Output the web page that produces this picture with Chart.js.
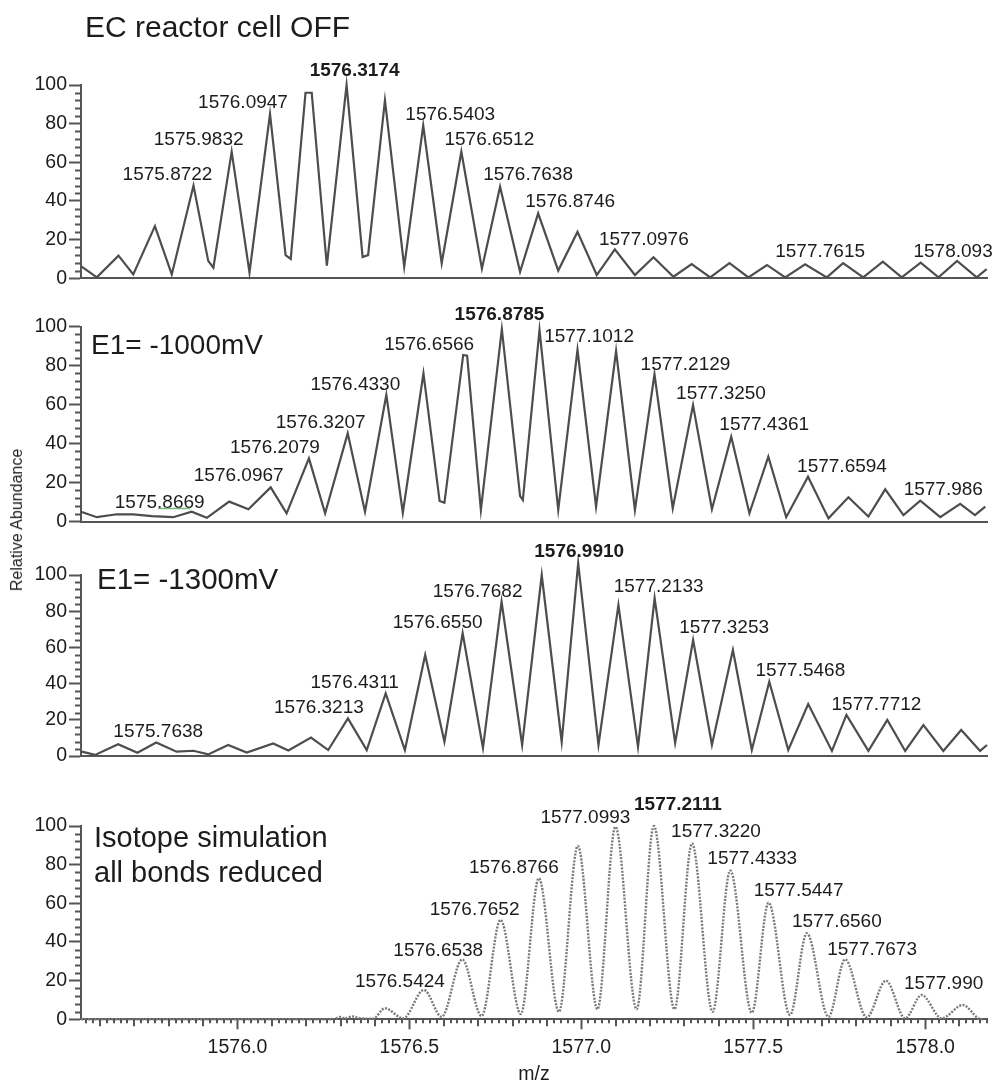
<!DOCTYPE html>
<html>
<head>
<meta charset="utf-8">
<script src="https://cdn.jsdelivr.net/npm/chart.js@4.4.1/dist/chart.umd.min.js"></script>
<style>
  body { margin: 0; background: #fff; }
  #page { position: relative; width: 993px; height: 1083px; overflow: hidden; font-family: "Liberation Sans", Arial, sans-serif; }
  #page canvas { position: absolute; left: 0; }
  #yTitle { position: absolute; left: 17px; top: 520px; transform: translate(-50%, -50%) rotate(-90deg); font-size: 16px; color: #222; white-space: nowrap; }
</style>
</head>
<body>
<div id="page">
  <canvas id="pOff" width="993" height="300" style="top:0px"></canvas>
  <canvas id="p1000" width="993" height="265" style="top:280px"></canvas>
  <canvas id="p1300" width="993" height="260" style="top:520px"></canvas>
  <canvas id="pSim" width="993" height="313" style="top:770px"></canvas>
  <div id="yTitle">Relative Abundance</div>
</div>
<script>
const FONT = '"Liberation Sans", Arial, sans-serif';
const INK = '#1c1c1c';
const AXIS = '#555';

// shared m/z window and y ticks
const mzMin = 1575.545;
const mzMax = 1578.18;
const yTicks = [0, 20, 40, 60, 80, 100];

// EC reactor cell OFF
const offMz = [1575.547, 1575.591, 1575.654, 1575.697, 1575.760, 1575.809, 1575.8722, 1575.915, 1575.930, 1575.9832,
  1576.035, 1576.0947, 1576.140, 1576.155, 1576.198, 1576.216, 1576.260, 1576.3174, 1576.364, 1576.380,
  1576.429, 1576.485, 1576.5403, 1576.594, 1576.6512, 1576.711, 1576.7638, 1576.822, 1576.8746, 1576.933,
  1576.989, 1577.045, 1577.0976, 1577.156, 1577.210, 1577.268, 1577.321, 1577.375, 1577.431, 1577.486,
  1577.540, 1577.593, 1577.651, 1577.714, 1577.7615, 1577.820, 1577.877, 1577.932, 1577.987, 1578.039,
  1578.093, 1578.150, 1578.179];
const offAb = [6, 0.5, 11.7, 2, 27, 2, 48, 9, 5.5, 65.5,
  3, 85, 12, 10, 96, 96, 6.5, 100, 11, 12,
  92, 6, 79, 7.8, 65.5, 5, 47.4, 3.4, 33.6, 4,
  24, 1.7, 15, 1.7, 10.9, 0.8, 7.4, 0.5, 7.8, 0.5,
  6.9, 0.5, 7.2, 0.5, 7.8, 0.5, 8.6, 0.5, 8.1, 0.5,
  9, 0.5, 4.7];
const offLabels = ['1575.8722', '1575.9832', '1576.0947', '1576.3174', '1576.5403', '1576.6512',
  '1576.7638', '1576.8746', '1577.0976', '1577.7615', '1578.093'];

// E1 = -1000 mV
const e1000Mz = [1575.545, 1575.591, 1575.649, 1575.697, 1575.751, 1575.813, 1575.8669, 1575.911, 1575.976, 1576.032,
  1576.0967, 1576.143, 1576.2079, 1576.255, 1576.3207, 1576.371, 1576.4330, 1576.481, 1576.541, 1576.588,
  1576.602, 1576.6566, 1576.668, 1576.708, 1576.769, 1576.822, 1576.830, 1576.8785, 1576.933, 1576.989,
  1577.043, 1577.1012, 1577.156, 1577.2129, 1577.266, 1577.3250, 1577.380, 1577.4361, 1577.489, 1577.544,
  1577.596, 1577.6594, 1577.719, 1577.777, 1577.835, 1577.884, 1577.937, 1577.986, 1578.044, 1578.102,
  1578.145, 1578.175];
const e1000Ab = [5, 2.2, 3.7, 3.7, 2.8, 2.2, 5, 1.9, 10.2, 6.3,
  17.5, 4.2, 32.4, 4.2, 45.2, 5, 64.9, 4.5, 76, 10.5,
  9.6, 85.4, 85, 5.9, 98.6, 13, 11, 98.2, 5.9, 88,
  7.6, 87.4, 5.9, 75.5, 6.8, 59.7, 6.3, 43.5, 4.2, 33.2,
  2.2, 23, 1.6, 12.4, 2.5, 16.5, 3.3, 10.7, 2.2, 9,
  3.3, 7.6];
const e1000Labels = ['1575.8669', '1576.0967', '1576.2079', '1576.3207', '1576.4330', '1576.6566', '1576.8785',
  '1577.1012', '1577.2129', '1577.3250', '1577.4361', '1577.6594', '1577.986'];

// E1 = -1300 mV
const e1300Mz = [1575.547, 1575.586, 1575.653, 1575.709, 1575.7638, 1575.823, 1575.872, 1575.915, 1575.973, 1576.027,
  1576.104, 1576.148, 1576.214, 1576.264, 1576.3213, 1576.376, 1576.4311, 1576.487, 1576.546, 1576.602,
  1576.6550, 1576.714, 1576.7682, 1576.828, 1576.885, 1576.943, 1576.9910, 1577.050, 1577.108, 1577.165,
  1577.2133, 1577.273, 1577.3253, 1577.380, 1577.441, 1577.496, 1577.5468, 1577.602, 1577.660, 1577.729,
  1577.7712, 1577.835, 1577.890, 1577.942, 1577.995, 1578.053, 1578.105, 1578.160, 1578.180];
const e1300Ab = [2.4, 0.6, 6.5, 1.8, 7.5, 2.4, 2.9, 0.9, 6.1, 1.9,
  6.9, 3, 10.2, 3.3, 20.8, 3.3, 34.6, 3.3, 55.8, 7.9,
  67.8, 4.4, 85.2, 6.1, 100, 7.9, 106.5, 6.1, 83.4, 5,
  87.1, 7.2, 64.1, 6.1, 58.6, 3.3, 41, 3.3, 28.7, 2.8,
  22.7, 2.8, 19.9, 2.8, 17.1, 2.8, 14.4, 2.8, 6.1];
const e1300Labels = ['1575.7638', '1576.3213', '1576.4311', '1576.6550', '1576.7682', '1576.9910',
  '1577.2133', '1577.3253', '1577.5468', '1577.7712'];

// isotope simulation, all bonds reduced
const simMz = [1575.545, 1576.278, 1576.300, 1576.313, 1576.333, 1576.356, 1576.394, 1576.429, 1576.482, 1576.5424,
  1576.594, 1576.6538, 1576.710, 1576.7652, 1576.824, 1576.8766, 1576.935, 1576.990, 1577.047, 1577.0993,
  1577.161, 1577.2111, 1577.271, 1577.3220, 1577.382, 1577.4333, 1577.496, 1577.5447, 1577.607, 1577.6560,
  1577.719, 1577.7673, 1577.830, 1577.886, 1577.942, 1577.990, 1578.048, 1578.110, 1578.155, 1578.169];
const simAb = [0, 0, 1.2, 0.4, 1.5, 0.6, 0.3, 5.7, 0.5, 15.2,
  1.3, 31, 1.7, 51.4, 2.7, 72.9, 3.9, 89.7, 5.2, 99.6,
  5.2, 100, 5.2, 91, 3.9, 76.9, 3.4, 60.3, 2.2, 44.5,
  1.3, 31, 1, 20, 0.5, 12.6, 0.5, 7.4, 0.5, 0];
const simLabels = ['1576.5424', '1576.6538', '1576.7652', '1576.8766', '1577.0993', '1577.2111',
  '1577.3220', '1577.4333', '1577.5447', '1577.6560', '1577.7673', '1577.990'];

// label placement: [dx px from peak, gap px above peak]
const offShift = [[-26, 6], [-33, 7], [-27, 6], [8, 9], [27, 6], [28, 7], [28, 7], [32, 6], [29, 4], [-23, 6], [-4, 4]];
const e1000Shift = [[-32, 4], [-32, 6], [-34, 5], [-27, 5], [-31, 5], [-34, 5], [-40, 10], [-27, 9], [31, 4], [28, 6], [33, 7], [34, 5], [23, 6]];
const e1300Shift = [[2, 5], [-29, 5], [-31, 5], [-25, 5], [-24, 5], [1, 6], [4, 6], [31, 7], [31, 6], [30, 5]];
const simShift = [[-24, 3], [-24, 3], [-26, 5], [-25, 5], [-30, 4], [24, 16], [24, 6], [22, 7], [30, 7], [30, 6], [27, 4], [22, 6]];

function peakHeight(mz, xs, ys) {
  let best = 0;
  xs.forEach((v, i) => { if (Math.abs(v - mz) < Math.abs(xs[best] - mz)) best = i; });
  return ys[best];
}

function labelPlugin(xs, ys, labels, shift, bold) {
  return {
    id: 'peakLabels',
    afterDatasetsDraw(chart) {
      const {ctx, scales: {x, y}} = chart;
      ctx.save();
      ctx.fillStyle = INK;
      ctx.textAlign = 'center';
      ctx.textBaseline = 'alphabetic';
      labels.forEach((t, i) => {
        const mz = parseFloat(t);
        ctx.font = (t === bold ? 'bold ' : '') + '19px ' + FONT;
        ctx.fillText(t, x.getPixelForValue(mz) + shift[i][0], y.getPixelForValue(peakHeight(mz, xs, ys)) - shift[i][1]);
      });
      ctx.restore();
    }
  };
}

function notesPlugin(notes, extra) {
  return {
    id: 'notes',
    afterDraw(chart) {
      const ctx = chart.ctx;
      ctx.save();
      ctx.fillStyle = INK;
      ctx.textAlign = 'left';
      ctx.textBaseline = 'alphabetic';
      notes.forEach(n => {
        ctx.font = n.size + 'px ' + FONT;
        ctx.fillText(n.text, n.x, n.y);
      });
      if (extra) extra(ctx);
      ctx.restore();
    }
  };
}

const minorTicks = {
  id: 'minorTicks',
  afterDraw(chart) {
    const {ctx, chartArea: a, scales: {x, y}} = chart;
    ctx.save();
    ctx.strokeStyle = AXIS;
    ctx.lineWidth = 2;
    ctx.beginPath();
    for (let v = 4; v < 100; v += 4) {
      if (v % 20 === 0) continue;
      const py = Math.round(y.getPixelForValue(v)) + 0.5;
      ctx.moveTo(a.left - 6, py);
      ctx.lineTo(a.left, py);
    }
    if (chart.options.scales.x.ticks.display) {
      for (let k = Math.ceil(mzMin / 0.02); k * 0.02 <= mzMax; k++) {
        if (k % 25 === 0) continue;
        const px = Math.round(x.getPixelForValue(k * 0.02));
        const len = k % 5 === 0 ? 7 : 4;
        ctx.moveTo(px, a.bottom);
        ctx.lineTo(px, a.bottom + len);
      }
    }
    ctx.stroke();
    ctx.restore();
  }
};

function makePanel(p) {
  const data = p.xs.map((v, i) => ({x: v, y: p.ys[i]}));
  const xAxis = p.showX ? {
    type: 'linear', min: mzMin, max: mzMax,
    ticks: {display: true, stepSize: 0.5, includeBounds: false, padding: 7, color: INK, maxRotation: 0, autoSkip: false,
      font: {family: FONT, size: 19.5}, callback: v => v.toFixed(1)},
    grid: {drawOnChartArea: false, drawTicks: true, tickLength: 10, tickWidth: 2, tickColor: AXIS},
    border: {color: AXIS, width: 2},
    title: {display: true, text: 'm/z', color: INK, font: {family: FONT, size: 19.5}, padding: {top: 0, bottom: -3}},
    afterFit: s => { s.height = p.axisH; }
  } : {
    type: 'linear', min: mzMin, max: mzMax,
    ticks: {display: false},
    grid: {drawOnChartArea: false, drawTicks: false},
    border: {color: AXIS, width: 2},
    afterFit: s => { s.height = 0; }
  };
  new Chart(document.getElementById(p.id), {
    type: 'line',
    data: {
      datasets: [{
        data,
        borderColor: p.sim ? '#7a7a7a' : '#4d4d4d',
        borderWidth: p.sim ? 2.4 : 2.2,
        borderDash: p.sim ? [2, 1.4] : [],
        cubicInterpolationMode: p.sim ? 'monotone' : 'default',
        tension: 0,
        pointRadius: 0,
        clip: false
      }]
    },
    options: {
      responsive: false,
      animation: false,
      devicePixelRatio: 1,
      layout: {padding: {left: 0, right: 6, top: p.padTop, bottom: p.padBottom}},
      plugins: {legend: {display: false}, tooltip: {enabled: false}},
      scales: {
        x: xAxis,
        y: {
          min: 0, max: 100,
          afterBuildTicks: s => { s.ticks = yTicks.map(v => ({value: v})); },
          ticks: {padding: 2, color: INK, font: {family: FONT, size: 19.5}},
          grid: {drawOnChartArea: false, tickLength: 12, tickWidth: 2, tickColor: AXIS},
          border: {color: AXIS, width: 2},
          afterFit: s => { s.width = 81; }
        }
      }
    },
    plugins: [minorTicks, labelPlugin(p.xs, p.ys, p.labels, p.shift, p.bold), notesPlugin(p.notes, p.extra)]
  });
}

makePanel({
  id: 'pOff', padTop: 85, padBottom: 21.7, xs: offMz, ys: offAb,
  labels: offLabels, shift: offShift, bold: '1576.3174',
  notes: [{text: 'EC reactor cell OFF', x: 85, y: 37, size: 30}]
});

makePanel({
  id: 'p1000', padTop: 46.5, padBottom: 23.5, xs: e1000Mz, ys: e1000Ab,
  labels: e1000Labels, shift: e1000Shift, bold: '1576.8785',
  notes: [{text: 'E1= -1000mV', x: 91, y: 74, size: 28}],
  extra: ctx => {
    ctx.strokeStyle = '#7cba7c';
    ctx.lineWidth = 1.5;
    ctx.beginPath();
    ctx.moveTo(158, 228.5);
    ctx.lineTo(190, 228.5);
    ctx.stroke();
  }
});

makePanel({
  id: 'p1300', padTop: 55, padBottom: 24, xs: e1300Mz, ys: e1300Ab,
  labels: e1300Labels, shift: e1300Shift, bold: '1576.9910',
  notes: [{text: 'E1= -1300mV', x: 97, y: 69, size: 29.5}]
});

makePanel({
  id: 'pSim', padTop: 56, padBottom: 0, showX: true, axisH: 63.7, sim: true, xs: simMz, ys: simAb,
  labels: simLabels, shift: simShift, bold: '1577.2111',
  notes: [{text: 'Isotope simulation', x: 94, y: 77, size: 29}, {text: 'all bonds reduced', x: 94, y: 112, size: 29}]
});
</script>
</body>
</html>
